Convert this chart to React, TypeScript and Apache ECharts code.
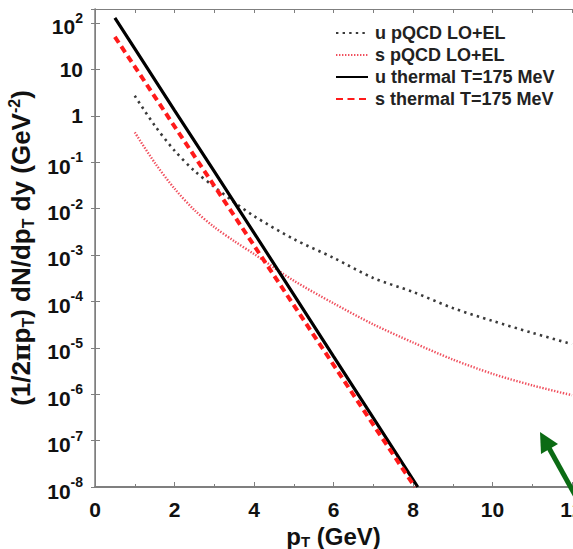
import React, { useEffect, useRef } from "react";
import * as echarts from "echarts";

// Transverse momentum grids (GeV)
const pqcdPt = [1, 1.5, 2, 2.5, 3, 3.5, 4, 5, 6, 7, 8, 9, 10, 11, 12];
const thermalPtU = [0.5, 1, 2, 3, 4, 5, 6, 7, 8, 8.12];
const thermalPtS = [0.5, 1, 2, 3, 4, 5, 6, 7, 8, 8.05];

// Spectra (1/2π pT) dN/dpT dy in GeV^-2
const uPqcd = [2.7, 0.62, 0.178, 0.065, 0.0295, 0.0138, 6.9e-3, 2.2e-3, 8.7e-4, 3.2e-4, 1.6e-4, 7.2e-5, 3.8e-5, 2.1e-5, 1.2e-5];
const sPqcd = [0.44, 0.098, 0.027, 9.3e-3, 4.0e-3, 2.0e-3, 1.05e-3, 2.8e-4, 9.1e-5, 3.2e-5, 1.3e-5, 5.6e-6, 2.75e-6, 1.55e-6, 9.5e-7];
const uThermal = [129, 28, 1.3, 0.063, 3.0e-3, 1.4e-4, 6.5e-6, 3.1e-7, 1.45e-8, 1e-8];
const sThermal = [50, 11.5, 0.59, 0.031, 1.6e-3, 8.3e-5, 4.3e-6, 2.2e-7, 1.15e-8, 1e-8];

const seriesNames = [
  "u pQCD LO+EL",
  "s pQCD LO+EL",
  "u thermal T=175 MeV",
  "s thermal T=175 MeV",
];

const FONT = '"Liberation Sans", Arial, sans-serif';
const FRAME = "#7f7f7f";

function pairs(xs: number[], ys: number[]) {
  return xs.map((x, i) => [x, ys[i]]);
}

function powerLabel(v: number): string {
  const e = Math.round(Math.log10(v));
  if (Math.abs(Math.log10(v) - e) > 1e-6) return "";
  if (e === 0) return "{b|1}";
  if (e === 1) return "{b|10}";
  return "{p|10}{s|" + e + "}";
}

export default function App() {
  const ref = useRef<HTMLDivElement>(null);

  useEffect(() => {
    document.body.style.margin = "0";
    const chart = echarts.init(ref.current!, null, { renderer: "svg" });
    const baseText = { fontFamily: FONT, fontWeight: "bold", color: "#111" };
    chart.setOption({
      animation: false,
      backgroundColor: "#ffffff",
      grid: { left: 95, right: 1, top: 9, bottom: 62, outerBoundsMode: "none", containLabel: false },
      legend: {
        orient: "vertical",
        left: 335,
        top: 24,
        padding: 0,
        itemWidth: 32,
        itemHeight: 14,
        itemGap: 4,
        itemStyle: { opacity: 0, borderWidth: 0 },
        textStyle: { ...baseText, fontSize: 18, color: "#222", padding: [0, 0, 0, 2] },
        data: seriesNames,
      },
      xAxis: [
        {
          type: "value",
          min: 0,
          max: 12,
          interval: 2,
          name: "{m|p}{sub|T}{m| (GeV)}",
          nameLocation: "middle",
          nameGap: 33,
          nameTextStyle: {
            ...baseText,
            rich: {
              m: { ...baseText, fontSize: 24, lineHeight: 24 },
              sub: { ...baseText, fontSize: 15, lineHeight: 10, verticalAlign: "bottom" },
            },
          },
          axisLine: { show: true, lineStyle: { color: FRAME, width: 2 } },
          axisTick: { show: true, inside: true, length: 5, lineStyle: { color: FRAME } },
          minorTick: { show: true, splitNumber: 2, length: 3, lineStyle: { color: FRAME } },
          splitLine: { show: false },
          axisLabel: { ...baseText, fontSize: 21, margin: 12 },
        },
        {
          type: "value",
          position: "top",
          min: 0,
          max: 12,
          interval: 1,
          axisLine: { show: true, lineStyle: { color: FRAME, width: 1 } },
          axisTick: { show: true, inside: true, length: 4, lineStyle: { color: FRAME } },
          axisLabel: { show: false },
          splitLine: { show: false },
        },
      ],
      yAxis: [
        {
          type: "log",
          logBase: 10,
          min: 1e-8,
          max: 200,
          interval: 1,
          name: "{m|(1/2}{pi|π}{m|p}{sub|T}{m|) dN/dp}{sub|T}{m| dy (GeV}{sup|-2}{m|)}",
          nameLocation: "middle",
          nameRotate: 90,
          nameGap: 58,
          nameTextStyle: {
            ...baseText,
            rich: {
              m: { ...baseText, fontSize: 26, lineHeight: 30 },
              pi: { fontFamily: '"DejaVu Serif", serif', fontSize: 24, color: "#111", lineHeight: 30 },
              sub: { ...baseText, fontSize: 16, lineHeight: 12, verticalAlign: "bottom" },
              sup: { ...baseText, fontSize: 16, lineHeight: 12, verticalAlign: "top" },
            },
          },
          axisLine: { show: true, lineStyle: { color: FRAME, width: 1.5 } },
          axisTick: { show: true, inside: true, length: 5, lineStyle: { color: FRAME } },
          splitLine: { show: false },
          axisLabel: {
            ...baseText,
            margin: 12,
            showMaxLabel: false,
            formatter: (v: number) => powerLabel(v),
            rich: {
              b: { ...baseText, fontSize: 21, lineHeight: 24 },
              p: { ...baseText, fontSize: 21, lineHeight: 24, padding: [8, 0, 0, 0] },
              s: { ...baseText, fontSize: 14, lineHeight: 12, verticalAlign: "top" },
            },
          },
        },
        {
          type: "log",
          logBase: 10,
          min: 1e-8,
          max: 200,
          interval: 1,
          position: "right",
          axisLine: { show: true, lineStyle: { color: FRAME, width: 1 } },
          axisTick: { show: true, inside: true, length: 4, lineStyle: { color: FRAME } },
          axisLabel: { show: false },
          splitLine: { show: false },
        },
      ],
      series: [
        {
          name: seriesNames[0],
          type: "line",
          showSymbol: false,
          symbol: "none",
          smooth: 0.3,
          data: pairs(pqcdPt, uPqcd),
          lineStyle: { color: "#3a3a3a", width: 2.6, type: [2.4, 4.2], cap: "butt" },
          itemStyle: { color: "#3a3a3a" },
        },
        {
          name: seriesNames[1],
          type: "line",
          showSymbol: false,
          symbol: "none",
          smooth: 0.3,
          data: pairs(pqcdPt, sPqcd),
          lineStyle: { color: "#f0505e", width: 2.4, type: [1.4, 1.6], cap: "butt" },
          itemStyle: { color: "#f0505e" },
        },
        {
          name: seriesNames[2],
          type: "line",
          showSymbol: false,
          symbol: "none",
          data: pairs(thermalPtU, uThermal),
          lineStyle: { color: "#000000", width: 3.2 },
          itemStyle: { color: "#000000" },
        },
        {
          name: seriesNames[3],
          type: "line",
          showSymbol: false,
          symbol: "none",
          data: pairs(thermalPtS, sThermal),
          lineStyle: { color: "#ff1a1a", width: 4, type: [7, 4.5], cap: "butt" },
          itemStyle: { color: "#ff1a1a" },
        },
      ],
      graphic: [
        {
          type: "line",
          shape: { x1: 549, y1: 448, x2: 580, y2: 504 },
          style: { stroke: "#0b6b14", lineWidth: 5 },
          z: 100,
        },
        {
          type: "polygon",
          shape: { points: [[540, 432], [558, 444], [541, 454]] },
          style: { fill: "#0b6b14" },
          z: 100,
        },
      ],
    });
    return () => chart.dispose();
  }, []);

  return (
    <div
      ref={ref}
      style={{ position: "fixed", left: 0, top: 0, width: 573, height: 549, background: "#fff" }}
    />
  );
}
